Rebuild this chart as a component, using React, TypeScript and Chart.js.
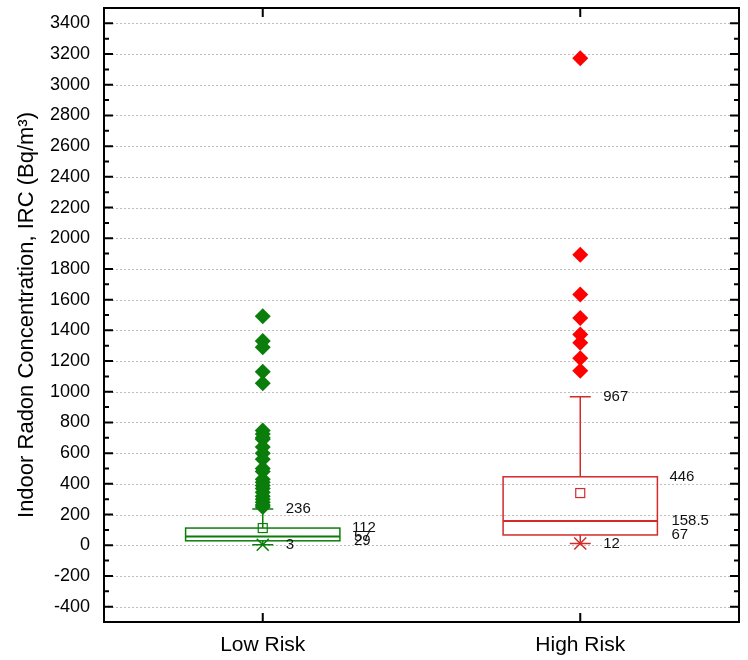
import React, { useEffect, useRef } from "react";
import { Chart, registerables } from "chart.js";

Chart.register(...registerables);

// ---- Data ----
const categories = ["Low Risk", "High Risk"];
const minValues = [3, 12];
const q1Values = [29, 67];
const medianValues = [57, 158.5];
const q3Values = [112, 446];
const upperWhiskerValues = [236, 967];
const meanValues = [112, 340];
const minLabels = ["3", "12"];
const q1Labels = ["29", "67"];
const medianLabels = ["57", "158.5"];
const q3Labels = ["112", "446"];
const upperLabels = ["236", "967"];
const lowRiskOutliers = [
  1492, 1330, 1290, 1130, 1055, 748, 725, 700, 690, 640, 600, 560, 500, 480,
  430, 410, 390, 370, 345, 320, 300, 280, 262, 250,
];
const highRiskOutliers = [3173, 1892, 1633, 1481, 1373, 1320, 1219, 1137];
const yTickValues = [
  -400, -200, 0, 200, 400, 600, 800, 1000, 1200, 1400, 1600, 1800, 2000, 2200,
  2400, 2600, 2800, 3000, 3200, 3400,
];
const yMin = -500;
const yMax = 3500;

// ---- Styles ----
const lineColors = ["#0a7d0a", "#d42a2a"];
const markerColors = ["#0a7d0a", "#ff0000"];
const FONT = "Arial, 'Liberation Sans', sans-serif";

const boxPlugin = {
  id: "boxPlugin",
  beforeDatasetsDraw(chart: any) {
    const { ctx, chartArea, scales } = chart;
    const y = scales.y;
    ctx.save();
    // dotted grid
    ctx.strokeStyle = "#bdbdbd";
    ctx.lineWidth = 1;
    ctx.setLineDash([2, 2]);
    yTickValues.forEach((v) => {
      const py = Math.round(y.getPixelForValue(v)) + 0.5;
      ctx.beginPath();
      ctx.moveTo(chartArea.left, py);
      ctx.lineTo(chartArea.right, py);
      ctx.stroke();
    });
    ctx.setLineDash([]);

    // boxes
    const x = scales.x;
    const halfBox = 0.243;
    categories.forEach((_, i) => {
      const cx = x.getPixelForValue(i + 1);
      const left = x.getPixelForValue(i + 1 - halfBox);
      const right = x.getPixelForValue(i + 1 + halfBox);
      const pQ1 = y.getPixelForValue(q1Values[i]);
      const pQ3 = y.getPixelForValue(q3Values[i]);
      const pMed = y.getPixelForValue(medianValues[i]);
      const pUp = y.getPixelForValue(upperWhiskerValues[i]);
      const pMin = y.getPixelForValue(minValues[i]);
      const pMean = y.getPixelForValue(meanValues[i]);
      ctx.strokeStyle = lineColors[i];
      ctx.lineWidth = 1.5;
      // whiskers
      ctx.beginPath();
      ctx.moveTo(cx, pQ3);
      ctx.lineTo(cx, pUp);
      ctx.moveTo(cx, pQ1);
      ctx.lineTo(cx, pMin);
      ctx.moveTo(cx - 10.5, pUp);
      ctx.lineTo(cx + 10.5, pUp);
      ctx.moveTo(cx - 10.5, pMin);
      ctx.lineTo(cx + 10.5, pMin);
      ctx.stroke();
      // x marker at min
      ctx.beginPath();
      ctx.moveTo(cx - 6, pMin - 6);
      ctx.lineTo(cx + 6, pMin + 6);
      ctx.moveTo(cx - 6, pMin + 6);
      ctx.lineTo(cx + 6, pMin - 6);
      ctx.stroke();
      // box
      ctx.strokeRect(left, pQ3, right - left, pQ1 - pQ3);
      ctx.lineWidth = 2;
      ctx.beginPath();
      ctx.moveTo(left, pMed);
      ctx.lineTo(right, pMed);
      ctx.stroke();
      // mean square
      ctx.lineWidth = 1.2;
      ctx.strokeRect(cx - 4.5, pMean - 4.5, 9, 9);

      // labels
      ctx.fillStyle = "#111";
      ctx.font = `15px ${FONT}`;
      ctx.textAlign = "left";
      ctx.textBaseline = "middle";
      ctx.fillText(upperLabels[i], cx + 23, pUp);
      ctx.fillText(minLabels[i], cx + 23, pMin);
      ctx.fillText(q3Labels[i], right + 12, pQ3);
      ctx.fillText(medianLabels[i], right + 14, pMed);
      ctx.fillText(q1Labels[i], right + 14, pQ1);
    });
    ctx.restore();
  },
  afterDraw(chart: any) {
    const { ctx, chartArea, scales } = chart;
    const y = scales.y;
    const x = scales.x;
    ctx.save();
    ctx.strokeStyle = "#000";
    ctx.lineWidth = 2;
    ctx.strokeRect(chartArea.left, chartArea.top, chartArea.right - chartArea.left, chartArea.bottom - chartArea.top);
    ctx.beginPath();
    yTickValues.forEach((v) => {
      const py = y.getPixelForValue(v);
      ctx.moveTo(chartArea.left, py);
      ctx.lineTo(chartArea.left + 9, py);
      ctx.moveTo(chartArea.right, py);
      ctx.lineTo(chartArea.right - 9, py);
      const pm = y.getPixelForValue(v + 100);
      if (v + 100 < yMax) {
        ctx.moveTo(chartArea.left, pm);
        ctx.lineTo(chartArea.left + 5, pm);
        ctx.moveTo(chartArea.right, pm);
        ctx.lineTo(chartArea.right - 5, pm);
      }
    });
    const pm0 = y.getPixelForValue(yTickValues[0] - 100);
    if (yTickValues[0] - 100 > yMin) {
      ctx.moveTo(chartArea.left, pm0);
      ctx.lineTo(chartArea.left + 5, pm0);
    }
    categories.forEach((_, i) => {
      const px = x.getPixelForValue(i + 1);
      ctx.moveTo(px, chartArea.bottom);
      ctx.lineTo(px, chartArea.bottom - 9);
      ctx.moveTo(px, chartArea.top);
      ctx.lineTo(px, chartArea.top + 9);
    });
    ctx.stroke();
    ctx.restore();
  },
};

export default function App() {
  const canvasRef = useRef<HTMLCanvasElement | null>(null);

  useEffect(() => {
    document.body.style.margin = "0";
    const canvas = canvasRef.current;
    if (!canvas) return;
    const chart = new Chart(canvas, {
      type: "scatter",
      data: {
        datasets: [
          {
            label: categories[0],
            data: lowRiskOutliers.map((v) => ({ x: 1, y: v })),
            pointStyle: "rectRot",
            pointRadius: 8,
            pointBackgroundColor: markerColors[0],
            pointBorderColor: markerColors[0],
            pointBorderWidth: 0,
          },
          {
            label: categories[1],
            data: highRiskOutliers.map((v) => ({ x: 2, y: v })),
            pointStyle: "rectRot",
            pointRadius: 8,
            pointBackgroundColor: markerColors[1],
            pointBorderColor: markerColors[1],
            pointBorderWidth: 0,
          },
        ],
      },
      options: {
        responsive: false,
        animation: false,
        layout: { padding: { top: 5, right: 9, left: 0, bottom: 0 } },
        plugins: { legend: { display: false }, tooltip: { enabled: false } },
        scales: {
          x: {
            type: "linear",
            min: 0.5,
            max: 2.5,
            grid: { display: false, drawTicks: false },
            border: { display: false },
            afterBuildTicks: (scale: any) => {
              scale.ticks = categories.map((_, i) => ({ value: i + 1 }));
            },
            afterFit: (scale: any) => {
              scale.height = 38;
              scale.paddingLeft = 0;
              scale.paddingRight = 0;
            },
            ticks: {
              padding: 11,
              color: "#000",
              font: { family: FONT, size: 21 },
              callback: (v: any) => categories[Number(v) - 1] ?? "",
            },
          },
          y: {
            type: "linear",
            min: yMin,
            max: yMax,
            grid: { display: false, drawTicks: false },
            border: { display: false },
            afterBuildTicks: (scale: any) => {
              scale.ticks = yTickValues.map((v) => ({ value: v }));
            },
            afterFit: (scale: any) => {
              scale.width = 104;
              scale.paddingTop = 0;
              scale.paddingBottom = 0;
            },
            ticks: {
              padding: 14,
              color: "#000",
              font: { family: FONT, size: 18 },
              callback: (v: any) => String(v),
            },
            title: {
              display: true,
              text: "Indoor Radon Concentration, IRC (Bq/m³)",
              color: "#000",
              font: { family: FONT, size: 22 },
              padding: { top: 14, bottom: 0 },
            },
          },
        },
      },
      plugins: [boxPlugin],
    });
    return () => chart.destroy();
  }, []);

  return (
    <div style={{ width: 748, height: 660 }}>
      <canvas ref={canvasRef} width={748} height={660} />
    </div>
  );
}
